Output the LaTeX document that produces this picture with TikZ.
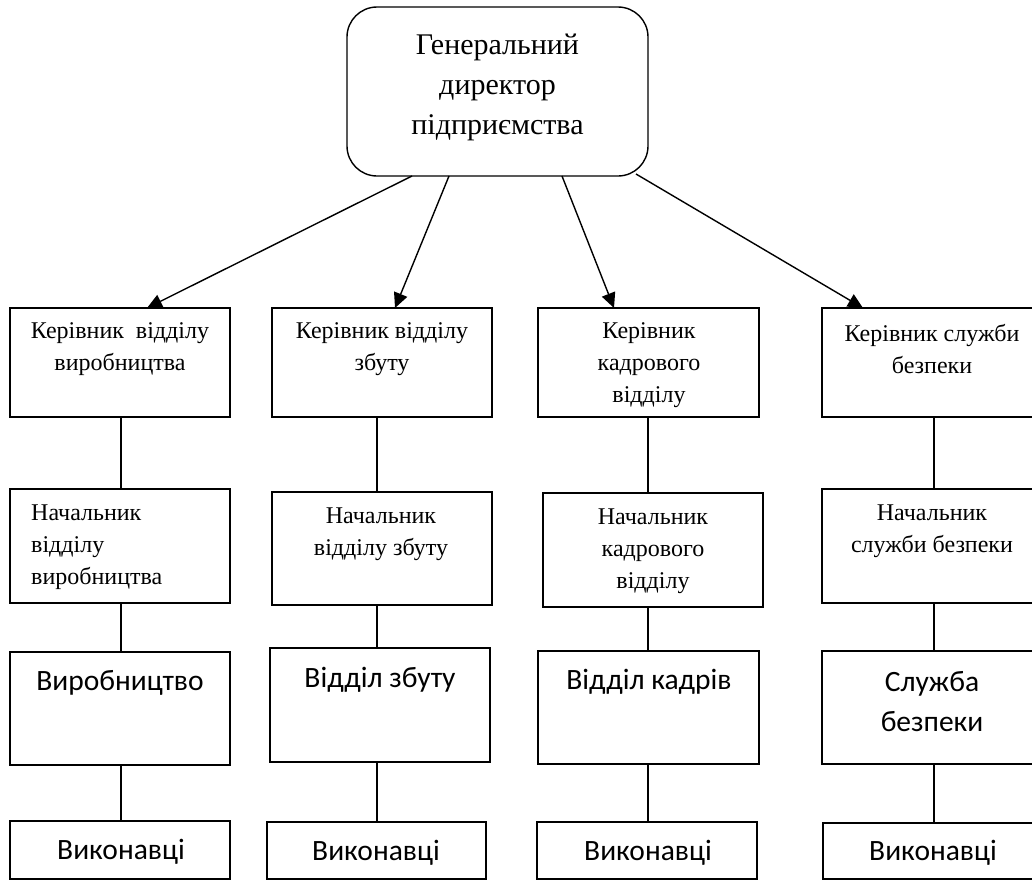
\documentclass[tikz,border=0pt]{standalone}
\usepackage{fontspec}
\setmainfont{Liberation Serif}
\newfontfamily\calib{Carlito}
\usetikzlibrary{arrows.meta,calc}
\tikzset{
  box/.style={draw, line width=1.4pt, anchor=north west, inner sep=0pt, outer sep=0pt},
  topbox/.style={box, rounded corners=30pt},
  ttop/.style={align=center, inner sep=0pt, font=\fontsize{30}{40}\selectfont},
  tmid/.style={align=center, inner sep=0pt, font=\fontsize{24}{32}\selectfont},
  tlow/.style={align=center, inner sep=0pt, font=\calib\fontsize{29.5}{40}\selectfont},
  conn/.style={line width=1.4pt},
  arr/.style={line width=1.4pt, -{Triangle[length=15pt,width=14pt]}}
}
\newcommand{\bx}[6][box]{\node[#1, minimum width=#4-#2, minimum height=#5-#3] (#6) at (#2,#3) {};}
\begin{document}
\begin{tikzpicture}[x=1pt,y=-1pt]
\clip (0,0) rectangle (1032,881);
\fill[white] (0,0) rectangle (1032,881);
% boxes
\bx[topbox]{347}{7}{648}{176}{top}
\bx{10}{308}{230}{417}{b1}
\bx{272}{308}{492}{417}{b2}
\bx{538}{308}{759}{417}{b3}
\bx{822}{308}{1042}{417}{b4}
\bx{10}{489}{230}{603}{c1}
\bx{272}{492}{492}{605}{c2}
\bx{543}{493}{763}{607}{c3}
\bx{822}{489}{1042}{603}{c4}
\bx{10}{652}{230}{765}{d1}
\bx{270}{648}{490}{762}{d2}
\bx{538}{651}{759}{764}{d3}
\bx{822}{651}{1042}{764}{d4}
\bx{10}{821}{230}{879}{e1}
\bx{267}{822}{486}{879}{e2}
\bx{537}{822}{757}{879}{e3}
\bx{823}{823}{1043}{879}{e4}
% texts
\node[ttop] (ttop) at (497.5,87) {Генеральний\\директор\\підприємства};
\node[tmid] (tb1) at (120,349) {Керівник\ \ відділу\\виробництва};
\node[tmid] (tb2) at (382,349) {Керівник відділу\\збуту};
\node[tmid] (tb3) at (649,365) {Керівник\\кадрового\\відділу};
\node[tmid] (tb4) at (932,349) {Керівник служби\\безпеки};
\node[tmid, align=left, anchor=west] (tc1) at (31,547) {Начальник\\відділу\\виробництва};
\node[tmid] (tc2) at (381,534) {Начальник\\відділу збуту};
\node[tmid] (tc3) at (653,551) {Начальник\\кадрового\\відділу};
\node[tmid] (tc4) at (932,531) {Начальник\\служби безпеки};
\node[tlow] (td1) at (120,683) {Виробництво};
\node[tlow] (td2) at (380,680) {Відділ збуту};
\node[tlow] (td3) at (649,682) {Відділ кадрів};
\node[tlow] (td4) at (932,702) {Служба\\безпеки};
\node[tlow] (te1) at (121,852) {Виконавці};
\node[tlow] (te2) at (376,853) {Виконавці};
\node[tlow] (te3) at (648,853) {Виконавці};
\node[tlow] (te4) at (933,853) {Виконавці};
% arrows
\draw[arr] ($(top.south west)+(65,0)$) -- ($(b1.north west)+(137,0)$);
\draw[arr] ($(top.south west)+(102,0)$) -- ($(b2.north west)+(123,0)$);
\draw[arr] ($(top.south west)+(215,0)$) -- ($(b3.north west)+(76,0)$);
\draw[arr] ($(top.south east)+(-12,-2)$) -- ($(b4.north west)+(41,0)$);
% vertical connectors
\coordinate (x1) at (121,0);
\coordinate (x2) at (377,0);
\coordinate (x3) at (648,0);
\coordinate (x4) at (934,0);
\draw[conn] (b1.south -| x1) -- (c1.north -| x1);
\draw[conn] (b2.south -| x2) -- (c2.north -| x2);
\draw[conn] (b3.south -| x3) -- (c3.north -| x3);
\draw[conn] (b4.south -| x4) -- (c4.north -| x4);
\draw[conn] (c1.south -| x1) -- (d1.north -| x1);
\draw[conn] (c2.south -| x2) -- (d2.north -| x2);
\draw[conn] (c3.south -| x3) -- (d3.north -| x3);
\draw[conn] (c4.south -| x4) -- (d4.north -| x4);
\draw[conn] (d1.south -| x1) -- (e1.north -| x1);
\draw[conn] (d2.south -| x2) -- (e2.north -| x2);
\draw[conn] (d3.south -| x3) -- (e3.north -| x3);
\draw[conn] (d4.south -| x4) -- (e4.north -| x4);
\end{tikzpicture}
\end{document}
